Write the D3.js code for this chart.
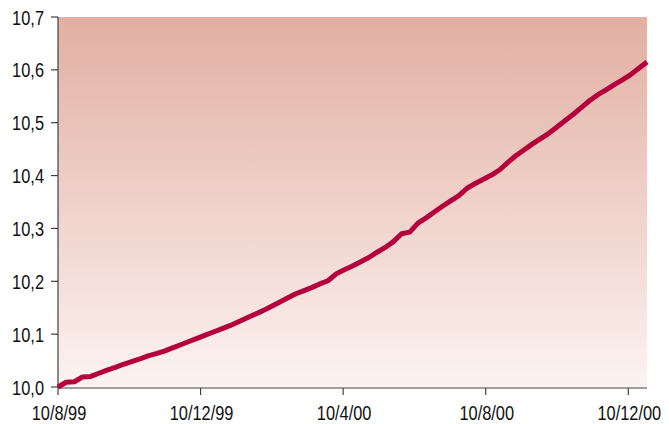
<!DOCTYPE html>
<html><head><meta charset="utf-8">
<script src="https://cdn.jsdelivr.net/npm/d3@7"></script>
<style>html,body{margin:0;padding:0;background:#fff;}svg{display:block;}</style>
</head><body>
<svg id="c" width="669" height="424"></svg>
<script>
// Weekly observations starting 10 Aug 1999
const startDate = "1999-08-10";
const values = [10.000,10.009,10.010,10.019,10.020,10.026,10.032,10.037,10.043,10.048,
10.053,10.059,10.063,10.068,10.074,10.080,10.086,10.092,10.098,10.104,
10.110,10.116,10.123,10.130,10.137,10.144,10.152,10.160,10.168,10.176,
10.182,10.188,10.195,10.201,10.214,10.222,10.229,10.237,10.245,10.255,
10.264,10.275,10.290,10.293,10.310,10.320,10.331,10.342,10.352,10.362,
10.376,10.385,10.393,10.401,10.411,10.425,10.438,10.449,10.460,10.470,
10.480,10.492,10.504,10.516,10.529,10.542,10.553,10.562,10.572,10.581,
10.591,10.603,10.615];
const xTickDates = ["1999-08-10","1999-12-10","2000-04-10","2000-08-10","2000-12-10"];
const xTickLabels = ["10/8/99","10/12/99","10/4/00","10/8/00","10/12/00"];
const yTicks = [10.0,10.1,10.2,10.3,10.4,10.5,10.6,10.7];
const yTickLabels = ["10,0","10,1","10,2","10,3","10,4","10,5","10,6","10,7"];

const parse = d3.utcParse("%Y-%m-%d");
const t0 = parse(startDate);
const data = values.map((v,i)=>({date:d3.utcDay.offset(t0, 7*i), value:v}));

const L=58, R=647, T=17, B=387;
const svg = d3.select("#c");
const x = d3.scaleUtc().domain(d3.extent(data,d=>d.date)).range([L,R]);
const y = d3.scaleLinear().domain([10,10.7]).range([B,T]);

const defs = svg.append("defs");
const grad = defs.append("linearGradient").attr("id","bg").attr("x1",0).attr("y1",0).attr("x2",0).attr("y2",1);
grad.append("stop").attr("offset","0%").attr("stop-color","#e2afa2");
grad.append("stop").attr("offset","100%").attr("stop-color","#fcf3f1");
svg.append("rect").attr("x",L).attr("y",T).attr("width",R-L).attr("height",B-T).attr("fill","url(#bg)");

const font = "'Liberation Sans', Arial, sans-serif";
const axisColor = "#404040";

// y axis
svg.append("line").attr("x1",L).attr("x2",L).attr("y1",T).attr("y2",B+1).attr("stroke",axisColor).attr("stroke-width",1.2);
yTicks.forEach((v,i)=>{
  svg.append("line").attr("x1",L-7).attr("x2",L).attr("y1",y(v)).attr("y2",y(v)).attr("stroke",axisColor).attr("stroke-width",1.2);
  svg.append("text").attr("transform",`translate(44,${y(v)}) scale(0.78,1)`)
    .attr("dy","0.36em").attr("text-anchor","end").attr("font-family",font).attr("font-size",21).attr("fill","#111")
    .text(yTickLabels[i]);
});
// x axis
svg.append("line").attr("x1",L).attr("x2",R).attr("y1",B+1).attr("y2",B+1).attr("stroke",axisColor).attr("stroke-width",1.2);
xTickDates.forEach((d,i)=>{
  const xx = x(parse(d));
  svg.append("line").attr("x1",xx).attr("x2",xx).attr("y1",B+1).attr("y2",B+8).attr("stroke",axisColor).attr("stroke-width",1.2);
  svg.append("text").attr("transform",`translate(${xx+1},420) scale(0.78,1)`)
    .attr("text-anchor","middle").attr("font-family",font).attr("font-size",21).attr("fill","#111")
    .text(xTickLabels[i]);
});

const line = d3.line().x(d=>x(d.date)).y(d=>y(d.value));
svg.append("path").datum(data).attr("d",line).attr("fill","none").attr("stroke","#b5003c").attr("stroke-width",5).attr("stroke-linejoin","round");
</script>
</body></html>
